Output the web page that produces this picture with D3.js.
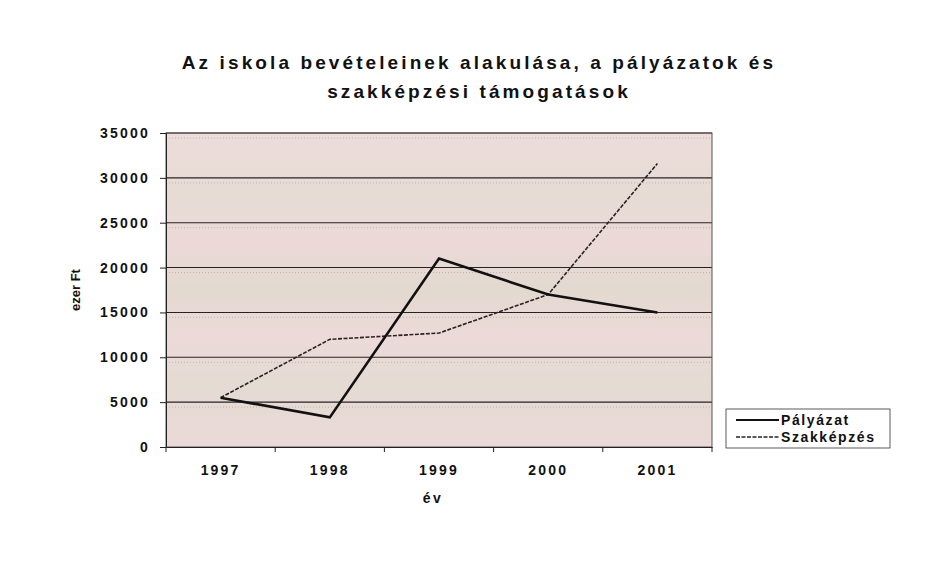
<!DOCTYPE html>
<html><head><meta charset="utf-8">
<script src="https://cdn.jsdelivr.net/npm/d3@7/dist/d3.min.js"></script>
<style>body{margin:0;background:#fff}svg{display:block;font-family:"Liberation Sans",Arial,sans-serif}</style>
</head><body><svg id="c" width="933" height="562"></svg>
<script>
const years = ["1997","1998","1999","2000","2001"];
const palyazat = [5500, 3300, 21000, 17000, 15000];
const szakkepzes = [5500, 12000, 12700, 17000, 31600];
const yTicks = [0,5000,10000,15000,20000,25000,30000,35000];
const titleLines = ["Az iskola bevételeinek alakulása, a pályázatok és","szakképzési támogatások"];
const seriesNames = ["Pályázat","Szakképzés"];

const svg = d3.select("#c");
const L=166,R=712,T=133,B=447;
const x = d3.scaleBand().domain(years).range([L,R]);
const y = d3.scaleLinear().domain([0,35000]).range([B,T]);

// plot background
const defs = svg.append("defs");
const g = defs.append("linearGradient").attr("id","bg").attr("x1",0).attr("x2",0).attr("y1",0).attr("y2",1);
[[0,"#eddcda"],[0.2,"#e6dcd4"],[0.35,"#ecd9d8"],[0.5,"#e3d9cf"],[0.65,"#ecdad9"],[0.8,"#e4dbd2"],[1,"#ebd9d8"]].forEach(s=>g.append("stop").attr("offset",s[0]).attr("stop-color",s[1]));
svg.append("rect").attr("x",L).attr("y",T).attr("width",R-L).attr("height",B-T).attr("fill","url(#bg)");

// gridlines
svg.append("g").selectAll("line").data(yTicks.slice(1)).join("line")
  .attr("x1",L).attr("x2",R).attr("y1",d=>y(d)).attr("y2",d=>y(d))
  .attr("stroke","#2a2222").attr("stroke-width",1.1);
svg.append("g").selectAll("line").data(yTicks.slice(1)).join("line")
  .attr("x1",L).attr("x2",R).attr("y1",d=>y(d)+5).attr("y2",d=>y(d)+5)
  .attr("stroke","#a09a98").attr("stroke-width",0.6).attr("stroke-dasharray","1,2");

// frame
svg.append("rect").attr("x",L).attr("y",T).attr("width",R-L).attr("height",B-T)
  .attr("fill","none").attr("stroke","#555").attr("stroke-width",1);

// axes
const yAxis = d3.axisLeft(y).tickValues(yTicks).tickFormat(d3.format("d")).tickSize(6).tickPadding(10);
const ya = svg.append("g").attr("transform",`translate(${L},0)`).call(yAxis);
ya.select(".domain").attr("stroke","#222");
ya.selectAll(".tick line").attr("stroke","#222");
ya.selectAll("text").attr("font-size",14).attr("font-weight","bold").attr("letter-spacing","2.2px").attr("fill","#111");

const xAxis = d3.axisBottom(x).tickSize(0).tickPadding(18);
const xa = svg.append("g").attr("transform",`translate(0,${B})`).call(xAxis);
xa.select(".domain").attr("stroke","#222");
xa.selectAll("text").attr("font-size",14).attr("font-weight","bold").attr("letter-spacing","2.2px").attr("fill","#111");
// category separator ticks
svg.append("g").selectAll("line").data(years).join("line")
  .attr("x1",d=>x(d)).attr("x2",d=>x(d)).attr("y1",B).attr("y2",B+5).attr("stroke","#222");
svg.append("line").attr("x1",R).attr("x2",R).attr("y1",B).attr("y2",B+5).attr("stroke","#222");

// lines
const line = d3.line().x((d,i)=>x(years[i])+x.bandwidth()/2).y(d=>y(d));
svg.append("path").datum(szakkepzes).attr("d",line).attr("fill","none")
  .attr("stroke","#2a2222").attr("stroke-width",1.6).attr("stroke-dasharray","4,1.5");
svg.append("path").datum(palyazat).attr("d",line).attr("fill","none")
  .attr("stroke","#111").attr("stroke-width",2.6).attr("stroke-linejoin","miter");

// title
svg.append("g").selectAll("text").data(titleLines).join("text")
  .attr("x",479).attr("y",(d,i)=>69+i*29).attr("text-anchor","middle")
  .attr("font-size",19).attr("font-weight","bold").attr("letter-spacing","3.1px").attr("fill","#111").text(d=>d);

// axis titles
svg.append("text").attr("transform","translate(80,290) rotate(-90)").attr("text-anchor","middle")
  .attr("font-size",13).attr("font-weight","bold").attr("fill","#111").text("ezer Ft");
svg.append("text").attr("x",433).attr("y",503).attr("text-anchor","middle")
  .attr("font-size",14).attr("font-weight","bold").attr("letter-spacing","2.5px").attr("fill","#111").text("év");

// legend
const lg = svg.append("g").attr("transform","translate(726,409)");
lg.append("rect").attr("width",164).attr("height",39).attr("fill","#fff").attr("stroke","#333").attr("stroke-width",0.8);
const items = lg.selectAll("g").data(seriesNames).join("g").attr("transform",(d,i)=>`translate(0,${11+i*17})`);
items.append("line").attr("x1",10).attr("x2",53).attr("y1",0).attr("y2",0)
  .attr("stroke",(d,i)=>i?"#2a2222":"#111").attr("stroke-width",(d,i)=>i?1.5:2.2).attr("stroke-dasharray",(d,i)=>i?"4,1.5":null);
items.append("text").attr("x",55).attr("y",5).attr("font-size",14).attr("font-weight","bold").attr("letter-spacing","1.6px").attr("fill","#111").text(d=>d);
</script></body></html>
